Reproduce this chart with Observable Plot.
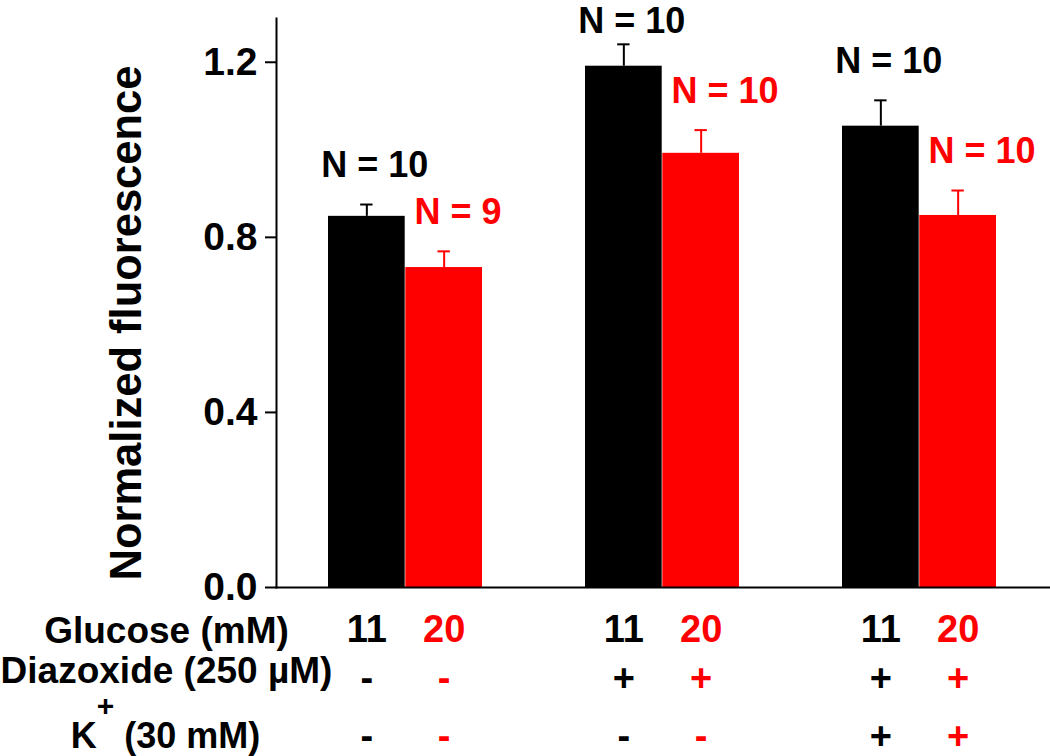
<!DOCTYPE html>
<html>
<head>
<meta charset="utf-8">
<script src="https://cdn.jsdelivr.net/npm/d3@7"></script>
<script src="https://cdn.jsdelivr.net/npm/@observablehq/plot@0.6"></script>
<style>
  html, body { margin: 0; padding: 0; background: #fff; }
</style>
</head>
<body>
<div id="chart"></div>
<script>
// ---- data ----
const conditions = ["ctrl", "diaz", "diazK"];
const glucoseLevels = ["11", "20"];
const mean11 = [0.848, 1.191, 1.054];
const mean20 = [0.731, 0.992, 0.850];
const sem11 = [0.027, 0.050, 0.059];
const sem20 = [0.037, 0.053, 0.057];
const n11 = [10, 10, 10];
const n20 = [9, 10, 10];
const diazoxide = ["-", "+", "+"];
const potassium = ["-", "-", "+"];
const yTicks = [0, 0.4, 0.8, 1.2];
const rowLabels = ["Glucose (mM)", "Diazoxide (250 \u00B5M)", "K+ (30 mM)"];
const yLabel = "Normalized fluorescence";

// ---- table ----
const rows = conditions.flatMap((c, i) => [
  {cond: c, glucose: glucoseLevels[0], mean: mean11[i], sem: sem11[i], n: n11[i], diaz: diazoxide[i], k: potassium[i]},
  {cond: c, glucose: glucoseLevels[1], mean: mean20[i], sem: sem20[i], n: n20[i], diaz: diazoxide[i], k: potassium[i]}
]);
const r11 = rows.filter(d => d.glucose === "11");
const r20 = rows.filter(d => d.glucose === "20");

// ---- layout ----
const W = 1050, H = 756;
const mL = 276, mR = 1, mT = 18, mB = 169;
const pI = 0.4, pO = 0.2;
const step = (W - mL - mR) / (conditions.length - pI + 2 * pO);
const bw = step * (1 - pI);
const half = bw / 2;
const q = half / 2;
const cap = 6.5;
const RED = "#ff0000";
const font = "'Liberation Sans', Arial, Helvetica, sans-serif";

const labelY = d => Math.min(d.mean + d.sem + 0.062, 1.267);

const plot = Plot.plot({
  width: W,
  height: H,
  marginLeft: mL,
  marginRight: mR,
  marginTop: mT,
  marginBottom: mB,
  style: {fontFamily: font, fontWeight: "bold", background: "#fff", overflow: "visible"},
  x: {type: "band", domain: conditions, paddingInner: pI, paddingOuter: pO, axis: null},
  y: {domain: [0, 1.3], axis: null},
  marks: [
    Plot.barY(r11, {x: "cond", y: "mean", fill: "black", insetRight: half}),
    Plot.barY(r20, {x: "cond", y: "mean", fill: RED, insetLeft: half}),
    Plot.ruleX(r11, {x: "cond", y1: "mean", y2: d => d.mean + d.sem, dx: -q, stroke: "black", strokeWidth: 2}),
    Plot.ruleX(r20, {x: "cond", y1: "mean", y2: d => d.mean + d.sem, dx: q, stroke: RED, strokeWidth: 2}),
    Plot.tickY(r11, {x: "cond", y: d => d.mean + d.sem, insetLeft: q - cap, insetRight: bw - q - cap, stroke: "black", strokeWidth: 2}),
    Plot.tickY(r20, {x: "cond", y: d => d.mean + d.sem, insetLeft: bw - q - cap, insetRight: q - cap, stroke: RED, strokeWidth: 2}),
    Plot.frame({anchor: "left", strokeWidth: 2}),
    Plot.frame({anchor: "bottom", strokeWidth: 2}),
    Plot.axisY({ticks: yTicks, tickFormat: d => d.toFixed(1), tickSize: 11, tickPadding: 8, fontSize: 39, strokeWidth: 2, label: null}),
    Plot.text([yLabel], {frameAnchor: "left", rotate: -90, dx: -149, dy: 20, fontSize: 43.5, lineAnchor: "middle", textAnchor: "middle"}),
    // N labels
    Plot.text(r11, {x: "cond", y: labelY, text: d => `N = ${d.n}`, dx: -half - 7, textAnchor: "start", lineAnchor: "bottom", fontSize: 36, fill: "black"}),
    Plot.text(r20, {x: "cond", y: labelY, text: d => `N = ${d.n}`, dx: 9, textAnchor: "start", lineAnchor: "bottom", fontSize: 36, fill: RED}),
    // bottom table: glucose values
    Plot.text(r11, {x: "cond", text: "glucose", frameAnchor: "bottom", dx: -q, dy: 54, lineAnchor: "bottom", textAnchor: "middle", fontSize: 38, fill: "black"}),
    Plot.text(r20, {x: "cond", text: "glucose", frameAnchor: "bottom", dx: q, dy: 54, lineAnchor: "bottom", textAnchor: "middle", fontSize: 38, fill: RED}),
    // diazoxide row
    Plot.text(r11, {x: "cond", text: "diaz", frameAnchor: "bottom", dx: -q, dy: 103, lineAnchor: "bottom", textAnchor: "middle", fontSize: 38, fill: "black"}),
    Plot.text(r20, {x: "cond", text: "diaz", frameAnchor: "bottom", dx: q, dy: 103, lineAnchor: "bottom", textAnchor: "middle", fontSize: 38, fill: RED}),
    // K+ row
    Plot.text(r11, {x: "cond", text: "k", frameAnchor: "bottom", dx: -q, dy: 161, lineAnchor: "bottom", textAnchor: "middle", fontSize: 38, fill: "black"}),
    Plot.text(r20, {x: "cond", text: "k", frameAnchor: "bottom", dx: q, dy: 161, lineAnchor: "bottom", textAnchor: "middle", fontSize: 38, fill: RED}),
    // row labels
    Plot.text([rowLabels[0]], {frameAnchor: "bottom-left", dx: 166 - mL, dy: 55, lineAnchor: "bottom", textAnchor: "middle", fontSize: 37}),
    Plot.text([rowLabels[1]], {frameAnchor: "bottom-left", dx: 166 - mL, dy: 95, lineAnchor: "bottom", textAnchor: "middle", fontSize: 37}),
    Plot.text([rowLabels[2]], {frameAnchor: "bottom-left", dx: 165 - mL, dy: 160, lineAnchor: "bottom", textAnchor: "middle", fontSize: 36, className: "klabel"})
  ]
});

// superscript "+" in K+ label
d3.select(plot).selectAll(".klabel text").each(function () {
  const t = d3.select(this);
  t.text(null);
  t.append("tspan").text("K");
  t.append("tspan").attr("dy", -32).attr("font-size", 30).text("+");
  t.append("tspan").attr("dy", 32).text(" (30 mM)");
});

document.getElementById("chart").appendChild(plot);
</script>
</body>
</html>
